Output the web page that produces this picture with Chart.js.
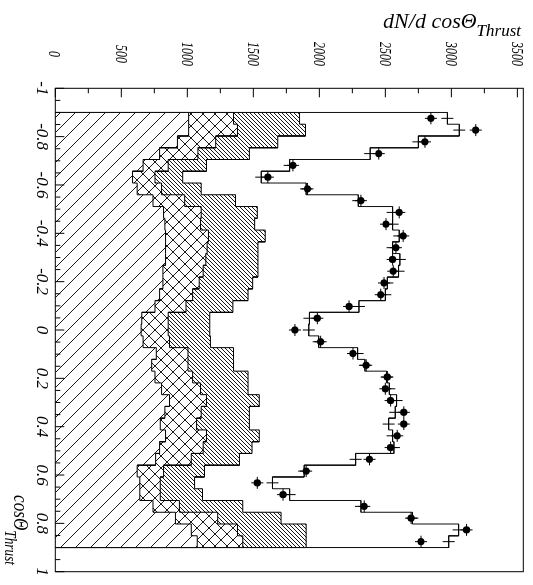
<!DOCTYPE html>
<html>
<head>
<meta charset="utf-8">
<script src="https://cdn.jsdelivr.net/npm/chart.js@4.4.1/dist/chart.umd.min.js"></script>
<style>
  html, body { margin: 0; padding: 0; background: #fff; overflow: hidden; }
  #wrap { position: relative; width: 533px; height: 585px; overflow: hidden; background: #fff; }
  /* plot is drawn landscape and turned a quarter turn clockwise */
  #thrust { position: absolute; left: 0; top: 0; transform-origin: 0 0; transform: translate(533px, 0) rotate(90deg); }
</style>
</head>
<body>
<div id="wrap"><canvas id="thrust" width="585" height="533"></canvas></div>
<script>
// cos(Theta_thrust) binning: 37 bins between -0.9 and 0.9
const binLo = -0.9, binHi = 0.9, nBins = 37;

// measured points
const dataPts = [2845, 3185, 2800, 2450, 1800, 1610, 1910, 2315, 2605, 2505, 2635, 2580, 2555,
  2560, 2490, 2465, 2225, 1985, 1815, 2010, 2255, 2355, 2515, 2500, 2540, 2640, 2640, 2590,
  2540, 2380, 1900, 1530, 1725, 2340, 2695, 3115, 2770];

// simulation total (step line + crosses)
const mcTotal = [2970, 3060, 2750, 2385, 1775, 1560, 1900, 2295, 2555, 2555, 2605, 2555, 2610,
  2600, 2515, 2500, 2300, 1925, 1920, 1995, 2290, 2345, 2510, 2530, 2585, 2575, 2525, 2555,
  2565, 2275, 1885, 1645, 1775, 2315, 2705, 3055, 2980];

// stacked components, top edge of each band
const stackLight = [1010, 1010, 925, 790, 665, 585, 620, 740, 820, 830, 835, 835, 835,
  815, 815, 790, 755, 655, 650, 665, 765, 730, 755, 805, 865, 830, 795, 835,
  790, 760, 620, 640, 640, 740, 910, 1030, 1075];
const stackCross = [1350, 1380, 1215, 1080, 855, 755, 805, 980, 1105, 1100, 1160, 1150, 1140,
  1120, 1090, 1040, 990, 855, 855, 865, 1005, 1005, 1040, 1100, 1145, 1105, 1070, 1145,
  1120, 1030, 820, 795, 795, 940, 1230, 1380, 1420];
const stackDense = [1850, 1895, 1685, 1470, 1145, 965, 1105, 1365, 1530, 1510, 1590, 1535, 1535,
  1535, 1495, 1460, 1345, 1170, 1170, 1175, 1350, 1350, 1460, 1460, 1545, 1470, 1470, 1545,
  1490, 1395, 1130, 1055, 1115, 1420, 1710, 1900, 1900];

const cosTicks = [-1, -0.8, -0.6, -0.4, -0.2, 0, 0.2, 0.4, 0.6, 0.8, 1];
const cosTickLabels = ['-1', '-0.8', '-0.6', '-0.4', '-0.2', '0', '0.2', '0.4', '0.6', '0.8', '1'];
const countTicks = [0, 500, 1000, 1500, 2000, 2500, 3000, 3500];

const binW = (binHi - binLo) / nBins;
const centers = Array.from({length: nBins}, (_, i) => binLo + (i + 0.5) * binW);

function stepPts(vals) {
  const pts = [{x: binLo, y: 0}];
  vals.forEach((v, i) => {
    pts.push({x: binLo + i * binW, y: v}, {x: binLo + (i + 1) * binW, y: v});
  });
  pts.push({x: binHi, y: 0});
  return pts;
}
const atCenters = vals => vals.map((v, i) => ({x: centers[i], y: v}));

const canvas = document.getElementById('thrust');
const ctx0 = canvas.getContext('2d');

function hatch(size, dirs) {
  const c = document.createElement('canvas');
  c.width = c.height = size;
  const g = c.getContext('2d');
  g.fillStyle = '#fff';
  g.fillRect(0, 0, size, size);
  g.strokeStyle = '#000';
  g.lineWidth = 0.9;
  dirs.forEach(d => {
    for (let k = -1; k <= 1; k++) {
      g.beginPath();
      if (d === '/') { g.moveTo(k * size, size); g.lineTo(k * size + size, 0); }
      else { g.moveTo(k * size, 0); g.lineTo(k * size + size, size); }
      g.stroke();
    }
  });
  return ctx0.createPattern(c, 'repeat');
}

const lightPat = hatch(15, ['\\']);
const crossPat = hatch(12, ['/', '\\']);
const densePat = hatch(4, ['/']);

const frame = {
  id: 'frame',
  afterDraw(chart) {
    const {ctx, chartArea: a, scales: {x, y}} = chart;
    ctx.save();
    ctx.strokeStyle = '#000';
    ctx.lineWidth = 1;
    ctx.beginPath();
    for (let v = 0; v <= 3500; v += 250) {
      const py = y.getPixelForValue(v);
      ctx.moveTo(a.left, py);
      ctx.lineTo(a.left + (v % 500 === 0 ? 9 : 5), py);
    }
    for (let i = -20; i <= 20; i++) {
      const px = x.getPixelForValue(i * 0.05);
      ctx.moveTo(px, a.bottom);
      ctx.lineTo(px, a.bottom - (i % 4 === 0 ? 9 : 5));
    }
    ctx.stroke();
    ctx.strokeRect(a.left, a.top, a.right - a.left, a.bottom - a.top);

    ctx.fillStyle = '#000';
    // value axis labels
    ctx.font = 'italic 17px "Liberation Serif"';
    ctx.textAlign = 'center';
    ctx.textBaseline = 'alphabetic';
    countTicks.forEach(v => {
      const py = y.getPixelForValue(v);
      ctx.save();
      ctx.translate(54, py + 5.8);
      ctx.scale(0.7, 1);
      ctx.fillText(String(v), 0, 0);
      ctx.restore();
    });
    // cos axis labels
    cosTicks.forEach((c, i) => {
      ctx.fillText(cosTickLabels[i], x.getPixelForValue(c), 496);
    });

    // axis titles
    const mainF = 'italic 22px "Liberation Serif"', subF = 'italic 17px "Liberation Serif"';
    ctx.textAlign = 'left';
    ctx.font = mainF; const wm1 = ctx.measureText('dN/d cos\u0398').width;
    ctx.font = subF; const ws1 = ctx.measureText('Thrust').width;
    ctx.save();
    ctx.translate(28, 12);
    ctx.rotate(-Math.PI / 2);
    ctx.font = mainF; ctx.fillText('dN/d cos\u0398', -(wm1 + ws1), 0);
    ctx.font = subF; ctx.fillText('Thrust', -ws1, 8);
    ctx.restore();

    ctx.font = mainF; const wm2 = ctx.measureText('cos\u0398').width;
    ctx.font = subF; const ws2 = ctx.measureText('Thrust').width;
    ctx.save();
    ctx.translate(565 - 0.78 * (wm2 + ws2), 0);
    ctx.scale(0.78, 1);
    ctx.font = mainF; ctx.fillText('cos\u0398', 0, 519);
    ctx.font = subF; ctx.fillText('Thrust', wm2, 528);
    ctx.restore();
    ctx.restore();
  }
};

const stepStyle = {borderColor: '#000', borderWidth: 1, pointRadius: 0, tension: 0, fill: 'origin'};

new Chart(canvas, {
  type: 'line',
  data: {
    datasets: [
      {label: 'data', data: atCenters(dataPts), showLine: false, pointStyle: 'circle', pointRadius: 3.6,
        pointBackgroundColor: '#000', pointBorderColor: '#000', pointBorderWidth: 0, order: 0},
      {label: 'data err', data: atCenters(dataPts), showLine: false, pointStyle: 'cross', pointRadius: 6,
        pointBorderColor: '#000', pointBorderWidth: 1, order: 1},
      {label: 'MC err', data: atCenters(mcTotal), showLine: false, pointStyle: 'cross', pointRadius: 6,
        pointBorderColor: '#000', pointBorderWidth: 1, order: 2},
      {label: 'MC', data: stepPts(mcTotal), borderColor: '#111', borderWidth: 1, pointRadius: 0, fill: false, order: 3},
      {label: 'light', data: stepPts(stackLight), ...stepStyle, backgroundColor: lightPat, order: 4},
      {label: 'cross', data: stepPts(stackCross), ...stepStyle, backgroundColor: crossPat, order: 5},
      {label: 'dense', data: stepPts(stackDense), ...stepStyle, backgroundColor: densePat, order: 6}
    ]
  },
  options: {
    responsive: false,
    animation: false,
    devicePixelRatio: 1,
    events: [],
    layout: {padding: {top: 9.7, right: 13.3, left: 0, bottom: 0}},
    plugins: {legend: {display: false}, tooltip: {enabled: false}},
    scales: {
      x: {type: 'linear', min: -1, max: 1, grid: {display: false}, border: {display: false},
        ticks: {display: false}, afterFit: s => { s.height = 55.3; }},
      y: {type: 'linear', min: 0, max: 3545, grid: {display: false}, border: {display: false},
        ticks: {display: false}, afterFit: s => { s.width = 88.3; }}
    }
  },
  plugins: [frame]
});
</script>
</body>
</html>
